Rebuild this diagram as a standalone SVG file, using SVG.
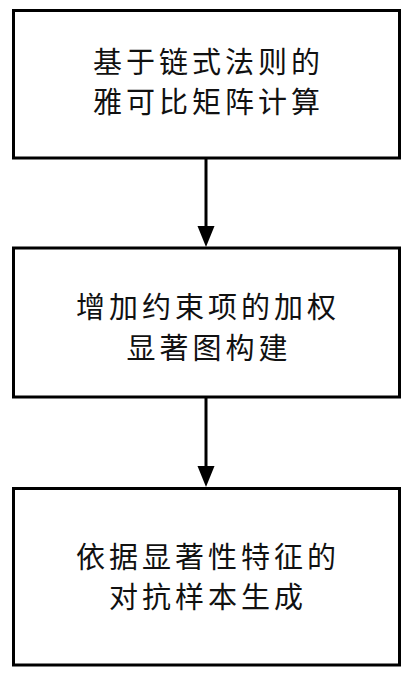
<svg xmlns="http://www.w3.org/2000/svg" width="416" height="679" viewBox="0 0 416 679">
<style>
.box{fill:#fff;stroke:#000;stroke-width:3}
.t{font-family:"Noto Sans CJK SC","Noto Sans CJK JP",sans-serif;font-size:29px;letter-spacing:4px;text-anchor:middle;fill:#111}
.c{stroke:#000;stroke-width:3;fill:none}
</style>
<defs>
<marker id="ah" markerUnits="userSpaceOnUse" markerWidth="18" markerHeight="22" refX="17" refY="9" orient="auto">
<path d="M0,0 L18,9 L0,18 L0,0 Z" fill="#000" transform="translate(0,0)"/>
</marker>
</defs>
<rect width="416" height="679" fill="#fff"/>
<g id="connectors">
<line class="c" x1="206" y1="158" x2="206" y2="230"/>
<path d="M197.5,226 L214.5,226 L206,247 Z" fill="#000"/>
<line class="c" x1="206" y1="397" x2="206" y2="470"/>
<path d="M197.5,466 L214.5,466 L206,487 Z" fill="#000"/>
</g>
<g id="n1">
<rect class="box" x="13.5" y="10.5" width="386" height="147.5"/>
<text class="t" x="208.5" y="73">基于链式法则的</text>
<text class="t" x="208.5" y="113">雅可比矩阵计算</text>
</g>
<g id="n2">
<rect class="box" x="13.5" y="248" width="386" height="149"/>
<text class="t" x="208" y="318">增加约束项的加权</text>
<text class="t" x="209" y="359">显著图构建</text>
</g>
<g id="n3">
<rect class="box" x="13.5" y="488.5" width="386" height="176.5"/>
<text class="t" x="208" y="568">依据显著性特征的</text>
<text class="t" x="208" y="608">对抗样本生成</text>
</g>
</svg>
